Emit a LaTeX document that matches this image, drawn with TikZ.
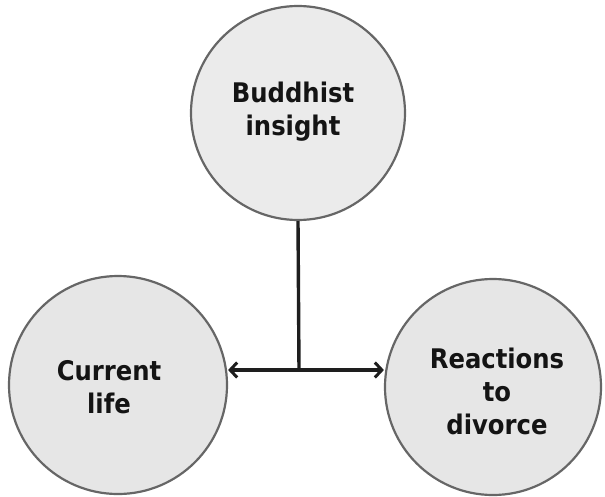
\documentclass[tikz,border=0pt]{standalone}
\usepackage{fontspec}
\setmainfont{DejaVu Sans}
\newfontfamily\labelfont{DejaVu Sans Condensed}[BoldFont={DejaVu Sans Condensed Bold}]
\usetikzlibrary{arrows.meta}
\definecolor{circfill}{HTML}{E6E6E6}
\definecolor{topfill}{HTML}{EBEBEB}
\definecolor{circline}{HTML}{666666}
\definecolor{arrowcol}{HTML}{1E1E1E}
\begin{document}
\begin{tikzpicture}[x=1pt,y=-1pt,
  bubble/.style={circle, draw=circline, line width=2.2pt, fill=circfill, inner sep=0pt},
  lbl/.style={align=center, font=\labelfont\bfseries\fontsize{27}{33}\selectfont, text=black!92},
  link/.style={draw=arrowcol, line width=3.4pt},
  tip/.style={-{Straight Barb[length=7pt,width=15pt,line width=3pt]}}]
\useasboundingbox (0,0) rectangle (605,496);
\node[bubble, fill=topfill, minimum size=214pt] (top) at (298,113) {};
\node[bubble, minimum size=218pt] (left) at (118,385) {};
\node[bubble, minimum size=216pt] (right) at (493,387) {};
\node[lbl] (toptext) at (293,112) {Buddhist\\insight};
\node[lbl] (lefttext) at (109,387) {Current\\life};
\node[lbl] (righttext) at (497,391) {Reactions\\to\\divorce};
\coordinate (junction) at (299,370);
\draw[link] (top.south) -- (junction);
\draw[link, tip] (junction) -- (left.east |- junction);
\draw[link, tip] (junction) -- (right.west |- junction);
\end{tikzpicture}
\end{document}
